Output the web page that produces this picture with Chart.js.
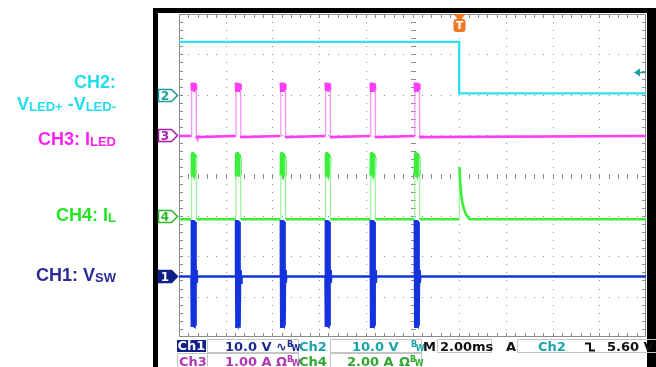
<!DOCTYPE html>
<html>
<head>
<meta charset="utf-8">
<script src="https://cdn.jsdelivr.net/npm/chart.js@4.4.0/dist/chart.umd.min.js"></script>
<style>
  html, body { margin: 0; padding: 0; background: #fff; }
  #wrap { position: relative; width: 656px; height: 367px; overflow: hidden; }
  #scope { position: absolute; left: 0; top: 0; }
  .lbl { position: absolute; right: 540px; font: bold 18px "Liberation Sans", Arial, sans-serif;
         line-height: 20px; white-space: nowrap; text-align: right; }
  .lbl sub { font-size: 13px; vertical-align: -1px; line-height: 0; }
  .ro { position: absolute; font: bold 13px "DejaVu Sans", sans-serif; line-height: 15px; white-space: nowrap; }
  .box { position: absolute; border: 1px solid #c4c4c4; box-sizing: border-box; }
  .bw { font-size: 8px; position: relative; top: -4px; letter-spacing: -1px; }
  .bw span { position: relative; top: 4px; }
</style>
</head>
<body>
<div id="wrap">
  <canvas id="scope" width="656" height="367"></canvas>

  <div class="lbl" style="top:72px;color:#22DDEE">CH2:</div>
  <div class="lbl" style="top:94px;color:#22DDEE">V<sub>LED+</sub> -V<sub>LED-</sub></div>
  <div class="lbl" style="top:129px;color:#FF22EE">CH3: I<sub>LED</sub></div>
  <div class="lbl" style="top:205px;color:#22E622">CH4: I<sub>L</sub></div>
  <div class="lbl" style="top:265px;color:#2B2B98">CH1: V<sub>SW</sub></div>

  <!-- readout row 1 -->
  <div class="box" style="left:207px;top:339px;width:92px;height:14px"></div>
  <div class="box" style="left:330px;top:339px;width:92px;height:14px"></div>
  <div class="box" style="left:437px;top:339px;width:55px;height:14px"></div>
  <div class="box" style="left:517px;top:339px;width:140px;height:14px"></div>
  <div class="ro" style="left:177px;top:340px;width:29px;height:12px;line-height:12px;background:#14208A;color:#fff;text-align:center">Ch1</div>
  <div class="ro" style="left:225px;top:339px;color:#1C2A90">10.0 V</div>
  <div class="ro" style="left:276px;top:339px;color:#1C2A90">∿<span class="bw">B<span>W</span></span></div>
  <div class="ro" style="left:299px;top:339px;color:#1AA3A8">Ch2</div>
  <div class="ro" style="left:352px;top:339px;color:#1AA3A8">10.0 V</div>
  <div class="ro" style="left:411px;top:339px;color:#1AA3A8"><span class="bw">B<span>W</span></span></div>
  <div class="ro" style="left:423px;top:339px;color:#111">M</div>
  <div class="ro" style="left:440px;top:339px;color:#111">2.00ms</div>
  <div class="ro" style="left:506px;top:339px;color:#111">A</div>
  <div class="ro" style="left:538px;top:339px;color:#1AA3A8">Ch2</div>
  <svg style="position:absolute;left:584px;top:342px" width="12" height="10">
    <path d="M1 1.5 H6 V8.5 H11" fill="none" stroke="#111" stroke-width="2"/>
  </svg>
  <div class="ro" style="left:607px;top:339px;color:#111">5.60 V</div>

  <!-- readout row 2 -->
  <div class="box" style="left:177px;top:353px;width:31px;height:16px"></div>
  <div class="box" style="left:207px;top:353px;width:92px;height:16px"></div>
  <div class="box" style="left:330px;top:353px;width:92px;height:16px"></div>
  <div class="ro" style="left:179px;top:354px;color:#B038B0">Ch3</div>
  <div class="ro" style="left:225px;top:354px;color:#B038B0">1.00 A</div>
  <div class="ro" style="left:276px;top:354px;color:#B038B0">Ω<span class="bw">B<span>W</span></span></div>
  <div class="ro" style="left:299px;top:354px;color:#2EA82E">Ch4</div>
  <div class="ro" style="left:347px;top:354px;color:#2EA82E">2.00 A</div>
  <div class="ro" style="left:399px;top:354px;color:#2EA82E">Ω<span class="bw">B<span>W</span></span></div>
</div>

<script>
// horizontal: 10 div x 2.00 ms
const TIME_MIN_MS = 0;
const TIME_MAX_MS = 20;
const PULSE_START_MS = [0.54, 2.44, 4.36, 6.28, 8.21, 10.10];
const TRIGGER_MS = 12.0;
const TRIGGER_LEVEL_V = 5.6;

// vertical settings per channel: units/div and ground offset in divisions
const CH_NAMES = ['1', '2', '3', '4'];
const CH_PER_DIV = [10, 10, 1, 2];
const CH_OFFSET_DIV = [-2.5, 2, 1, -1];

// CH1 V_SW [V] : shape of one switching burst
const VSW_BASE = 0;
const VSW_DT = [-0.01, 0.0, 0.015, 0.03, 0.045, 0.06, 0.075, 0.09, 0.105, 0.12, 0.135, 0.15, 0.165, 0.18, 0.20, 0.22, 0.24];
const VSW_V  = [0, 14.0, -12.5, 13.8, -12.4, 14.0, -12.5, 13.6, -12.3, 13.8, -12.4, 13.5, -12.2, 0, 1.6, -1.6, 0];

// CH2 V_LED+ - V_LED- [V]
const VLED_T = [0, 12.0, 12.0, 20];
const VLED_V = [13.1, 13.1, 0.35, 0.35];

// CH3 I_LED [A]
const ILED_BASE = -0.02;
const ILED_DT = [-0.01, 0.0, 0.015, 0.03, 0.045, 0.06, 0.075, 0.09, 0.105, 0.12, 0.135, 0.15, 0.165, 0.18, 0.195, 0.205, 0.23];
const ILED_A  = [-0.02, 1.30, 1.10, 1.29, 1.10, 1.30, 1.11, 1.28, 1.10, 1.29, 1.11, 1.28, 1.10, 1.27, 1.12, -0.02, -0.05];

// CH4 I_L [A]
const IL_BASE = -0.17;
const IL_DT = [-0.01, 0.0, 0.015, 0.03, 0.045, 0.06, 0.075, 0.09, 0.105, 0.12, 0.135, 0.15, 0.165, 0.18, 0.195, 0.205];
const IL_A  = [-0.17, 2.0, 3.1, 2.0, 3.16, 2.05, 3.12, 2.0, 3.1, 2.05, 3.05, 2.0, 3.0, 2.05, 2.9, -0.17];
const IL_TRIG_DT = [0, 0.01, 0.04, 0.08, 0.13, 0.20, 0.30, 0.45];
const IL_TRIG_A  = [-0.17, 2.42, 1.7, 1.15, 0.7, 0.35, 0.05, -0.17];

function burstTrace(base, dt, val, extraAt, extraDt, extraVal) {
  const pts = [{ x: TIME_MIN_MS, y: base }];
  PULSE_START_MS.forEach(t0 => dt.forEach((d, i) => pts.push({ x: t0 + d, y: val[i] })));
  if (extraDt) extraDt.forEach((d, i) => pts.push({ x: extraAt + d, y: extraVal[i] }));
  pts.push({ x: TIME_MAX_MS, y: base });
  return pts;
}

// thin, lighter segments for the fast edges
function edgeStyle(color, light) {
  const steep = c => Math.abs(c.p1.y - c.p0.y) > 30;
  return {
    borderColor: c => steep(c) ? light : color,
    borderWidth: c => steep(c) ? 1.2 : 2.6
  };
}

const scales = { x: { type: 'linear', min: TIME_MIN_MS, max: TIME_MAX_MS, display: false } };
CH_NAMES.forEach((n, i) => {
  scales['y' + n] = {
    type: 'linear', display: false,
    min: (-4 - CH_OFFSET_DIV[i]) * CH_PER_DIV[i],
    max: (4 - CH_OFFSET_DIV[i]) * CH_PER_DIV[i]
  };
});

const MARKERS = [
  { axis: 'y1', label: '1', color: '#14208A', filled: true },
  { axis: 'y2', label: '2', color: '#1A9EA2', filled: false },
  { axis: 'y3', label: '3', color: '#A81EA8', filled: false },
  { axis: 'y4', label: '4', color: '#2CB82C', filled: false }
];

const graticule = {
  id: 'graticule',
  beforeDatasetsDraw(chart) {
    const { ctx, chartArea: a } = chart;
    const dx = (a.right - a.left) / 10, dy = (a.bottom - a.top) / 8;
    ctx.save();
    ctx.fillStyle = '#8c8c8c';
    for (let i = 1; i < 10; i++) {
      const x = Math.round(a.left + i * dx);
      for (let j = 1; j < 40; j++) ctx.fillRect(x, Math.round(a.top + j * dy / 5), 1, 1);
    }
    for (let j = 1; j < 8; j++) {
      const y = Math.round(a.top + j * dy);
      for (let i = 1; i < 50; i++) ctx.fillRect(Math.round(a.left + i * dx / 5), y, 1, 1);
    }
    // centre cross ticks and edge ticks
    const cx = Math.round(a.left + 5 * dx), cy = Math.round(a.top + 4 * dy);
    for (let i = 1; i < 50; i++) {
      const x = Math.round(a.left + i * dx / 5);
      ctx.fillRect(x, cy - 2, 1, 5);
      ctx.fillRect(x, a.top, 1, 4);
      ctx.fillRect(x, a.bottom - 4, 1, 4);
    }
    for (let j = 1; j < 40; j++) {
      const y = Math.round(a.top + j * dy / 5);
      ctx.fillRect(cx - 2, y, 5, 1);
      ctx.fillRect(a.left, y, 4, 1);
      ctx.fillRect(a.right - 4, y, 4, 1);
    }
    ctx.strokeStyle = '#8c8c8c';
    ctx.lineWidth = 1;
    ctx.strokeRect(a.left + 0.5, a.top + 0.5, a.right - a.left - 1, a.bottom - a.top - 1);
    ctx.restore();
  }
};

const decor = {
  id: 'decor',
  afterDraw(chart) {
    const { ctx, scales: s } = chart;
    ctx.save();
    // bezel
    ctx.fillStyle = '#000';
    ctx.fillRect(153, 8, 5, 359);
    ctx.fillRect(153, 8, 503, 5);
    ctx.fillRect(647, 8, 9, 359);

    // channel ground markers
    ctx.font = 'bold 12px "DejaVu Sans", sans-serif';
    ctx.textAlign = 'center';
    ctx.textBaseline = 'middle';
    MARKERS.forEach(m => {
      const y = Math.round(s[m.axis].getPixelForValue(0)) + 0.5;
      ctx.beginPath();
      ctx.moveTo(158.5, y - 6);
      ctx.lineTo(171.5, y - 6);
      ctx.lineTo(177.5, y);
      ctx.lineTo(171.5, y + 6);
      ctx.lineTo(158.5, y + 6);
      ctx.closePath();
      ctx.fillStyle = m.filled ? m.color : '#fff';
      ctx.fill();
      ctx.lineWidth = 1.5;
      ctx.strokeStyle = m.color;
      ctx.stroke();
      ctx.fillStyle = m.filled ? '#fff' : m.color;
      ctx.fillText(m.label, 165, y + 1);
    });

    // trigger position marker
    const tx = Math.round(s.x.getPixelForValue(TRIGGER_MS)) + 0.5;
    ctx.fillStyle = '#F07820';
    ctx.beginPath();
    ctx.moveTo(tx - 6, 14); ctx.lineTo(tx + 6, 14); ctx.lineTo(tx + 2, 19); ctx.lineTo(tx - 2, 19);
    ctx.closePath(); ctx.fill();
    ctx.beginPath();
    ctx.roundRect(tx - 6, 19, 12, 13, 3);
    ctx.fill();
    ctx.fillStyle = '#fff';
    ctx.font = 'bold 11px "DejaVu Sans", sans-serif';
    ctx.fillText('T', tx, 26);

    // trigger level arrow (Ch2)
    const ly = Math.round(s.y2.getPixelForValue(TRIGGER_LEVEL_V)) + 0.5;
    ctx.strokeStyle = '#1A9EA2';
    ctx.fillStyle = '#1A9EA2';
    ctx.lineWidth = 1.5;
    ctx.beginPath(); ctx.moveTo(639, ly); ctx.lineTo(645, ly); ctx.stroke();
    ctx.beginPath(); ctx.moveTo(634, ly); ctx.lineTo(640, ly - 4); ctx.lineTo(640, ly + 4); ctx.closePath(); ctx.fill();
    ctx.restore();
  }
};

new Chart(document.getElementById('scope'), {
  type: 'line',
  data: {
    datasets: [
      { label: 'CH1', yAxisID: 'y1', data: burstTrace(VSW_BASE, VSW_DT, VSW_V),
        borderColor: '#1533DC', borderWidth: 2.4 },
      { label: 'CH4', yAxisID: 'y4',
        data: burstTrace(IL_BASE, IL_DT, IL_A, TRIGGER_MS, IL_TRIG_DT, IL_TRIG_A),
        borderColor: '#3AEE3A', segment: edgeStyle('#3AEE3A', '#9CF49C') },
      { label: 'CH3', yAxisID: 'y3', data: burstTrace(ILED_BASE, ILED_DT, ILED_A),
        borderColor: '#FF3CF6', segment: edgeStyle('#FF3CF6', '#FF90FA') },
      { label: 'CH2', yAxisID: 'y2', data: VLED_T.map((t, i) => ({ x: t, y: VLED_V[i] })),
        borderColor: '#2EE2F0', borderWidth: 2.4 }
    ]
  },
  options: {
    responsive: false,
    animation: false,
    parsing: false,
    layout: { padding: { left: 179, right: 10, top: 14, bottom: 30 } },
    plugins: { legend: { display: false }, tooltip: { enabled: false } },
    elements: { point: { radius: 0 }, line: { tension: 0, borderWidth: 2.4 } },
    scales: scales
  },
  plugins: [graticule, decor]
});
</script>
</body>
</html>
